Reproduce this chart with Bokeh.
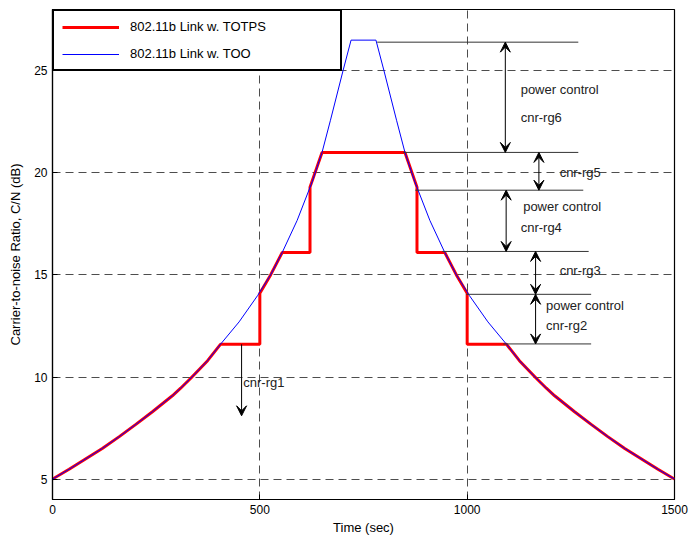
from bokeh.plotting import figure
from bokeh.models import (Range1d, FixedTicker, Legend, LegendItem,
                          Arrow, VeeHead, ColumnDataSource)
from bokeh.core.properties import value
from bokeh.embed import file_html
from bokeh.resources import INLINE

# ---- data ----
too_x = [0, 40, 120, 161, 201, 241, 289, 309, 334, 374, 405, 450, 495, 526, 554, 590, 626, 650, 670, 701, 720,
         780, 799, 830, 850, 874, 910, 946, 974, 1005, 1050, 1095, 1126, 1166, 1191, 1211, 1259, 1299, 1339, 1380, 1460, 1500]
too_y = [5.0, 5.48, 6.5, 7.08, 7.68, 8.3, 9.08, 9.45, 9.95, 10.8, 11.6, 12.7, 14.0, 15.0, 16.1, 17.67, 19.55, 21.0, 22.55, 25.03, 26.5,
         26.5, 25.03, 22.55, 21.0, 19.55, 17.67, 16.1, 15.0, 14.0, 12.7, 11.6, 10.8, 9.95, 9.45, 9.08, 8.3, 7.68, 7.08, 6.5, 5.48, 5.0]

totps_x = [0, 40, 120, 161, 201, 241, 289, 309, 334, 374, 405, 500, 500, 526, 554, 621, 621, 650, 850, 879, 879,
           946, 974, 1000, 1000, 1095, 1126, 1166, 1191, 1211, 1259, 1299, 1339, 1380, 1460, 1500]
totps_y = [5.0, 5.48, 6.5, 7.08, 7.68, 8.3, 9.08, 9.45, 9.95, 10.8, 11.6, 11.6, 14.1, 15.0, 16.1, 16.1, 19.3, 21.0, 21.0, 19.3, 16.1,
           16.1, 15.0, 14.1, 11.6, 11.6, 10.8, 9.95, 9.45, 9.08, 8.3, 7.68, 7.08, 6.5, 5.48, 5.0]

series_labels = ["802.11b Link w. TOTPS", "802.11b Link w. TOO"]

x_ticks = [0, 500, 1000, 1500]
y_ticks = [5, 10, 15, 20, 25]

level_y = [26.4, 21.0, 19.15, 16.15, 14.05, 11.62]
level_x0 = [783, 846, 875, 940, 998, 1087]
level_x1 = [1268, 1268, 1280, 1293, 1299, 1299]

arrow_x = [1092, 1173, 1094, 1165, 1165]
arrow_y0 = [26.4, 21.0, 19.15, 16.15, 14.05]
arrow_y1 = [21.0, 19.15, 16.15, 14.05, 11.62]

rg1_x = [456]
rg1_y0 = [11.6]
rg1_y1 = [8.1]

note_text = ["power control", "cnr-rg6", "cnr-rg5", "power control", "cnr-rg4",
             "cnr-rg3", "power control", "cnr-rg2", "cnr-rg1"]
note_x = [1129, 1129, 1223, 1135, 1129, 1223, 1190, 1190, 460]
note_y = [24.07, 22.7, 20.0, 18.36, 17.3, 15.2, 13.5, 12.53, 9.73]

FONT = "Liberation Sans"

p = figure(width=689, height=539, x_range=Range1d(0, 1500), y_range=Range1d(4, 28),
           output_backend="svg", toolbar_location=None,
           min_border_left=52, min_border_right=15, min_border_top=9, min_border_bottom=40,
           background_fill_color="white", border_fill_color="white")
p.outline_line_color = "black"
p.outline_line_width = 1.2

p.xaxis.ticker = FixedTicker(ticks=x_ticks)
p.yaxis.ticker = FixedTicker(ticks=y_ticks)
for ax in (p.xaxis[0], p.yaxis[0]):
    ax.major_tick_in = 5
    ax.major_tick_out = 0
    ax.minor_tick_line_color = None
    ax.axis_line_color = "black"
    ax.axis_line_width = 1.2
    ax.major_tick_line_color = "black"
    ax.major_label_text_font = FONT
    ax.major_label_text_font_size = "12px"
    ax.major_label_text_color = "black"
    ax.major_label_standoff = 5
    ax.axis_label_text_font = FONT
    ax.axis_label_text_font_size = "13px"
    ax.axis_label_text_font_style = "normal"
    ax.axis_label_text_color = "black"
p.xaxis.axis_label = "Time (sec)"
p.xaxis.axis_label_standoff = 3
p.yaxis.axis_label = "Carrier-to-noise Ratio, C/N (dB)"
p.yaxis.axis_label_standoff = 8

p.grid.grid_line_color = "#4d4d4d"
p.grid.grid_line_dash = "8 5"
p.grid.grid_line_width = 1

r_totps = p.line(totps_x, totps_y, line_color="#ff0000", line_width=3)
r_too = p.line(too_x, too_y, line_color="#0000ff", line_width=1)

p.segment(x0=level_x0, y0=level_y, x1=level_x1, y1=level_y, line_color="#333333", line_width=1)

src = ColumnDataSource(dict(x=arrow_x, y0=arrow_y0, y1=arrow_y1))
p.add_layout(Arrow(source=src, x_start="x", y_start="y0", x_end="x", y_end="y1",
                   start=VeeHead(size=10, fill_color="black", line_color="black", line_width=1),
                   end=VeeHead(size=10, fill_color="black", line_color="black", line_width=1),
                   line_color="black", line_width=1))
src1 = ColumnDataSource(dict(x=rg1_x, y0=rg1_y0, y1=rg1_y1))
p.add_layout(Arrow(source=src1, x_start="x", y_start="y0", x_end="x", y_end="y1",
                   end=VeeHead(size=10, fill_color="black", line_color="black", line_width=1),
                   line_color="black", line_width=1))

p.text(x=note_x, y=note_y, text=note_text, text_font=value(FONT), text_font_size="13px",
       text_baseline="middle", text_align="left", text_color="#222222")

legend = Legend(items=[LegendItem(label=series_labels[0], renderers=[r_totps]),
                       LegendItem(label=series_labels[1], renderers=[r_too])],
                location="top_left", margin=0, padding=8, spacing=12,
                glyph_width=57, glyph_height=14, label_height=14, label_width=202,
                label_standoff=11, border_line_color="black", border_line_width=2,
                border_line_alpha=1,
                background_fill_color="white", background_fill_alpha=1,
                label_text_font=FONT, label_text_font_size="13px", label_text_color="black")
p.add_layout(legend)

open("out.html", "w").write(file_html(p, INLINE))
